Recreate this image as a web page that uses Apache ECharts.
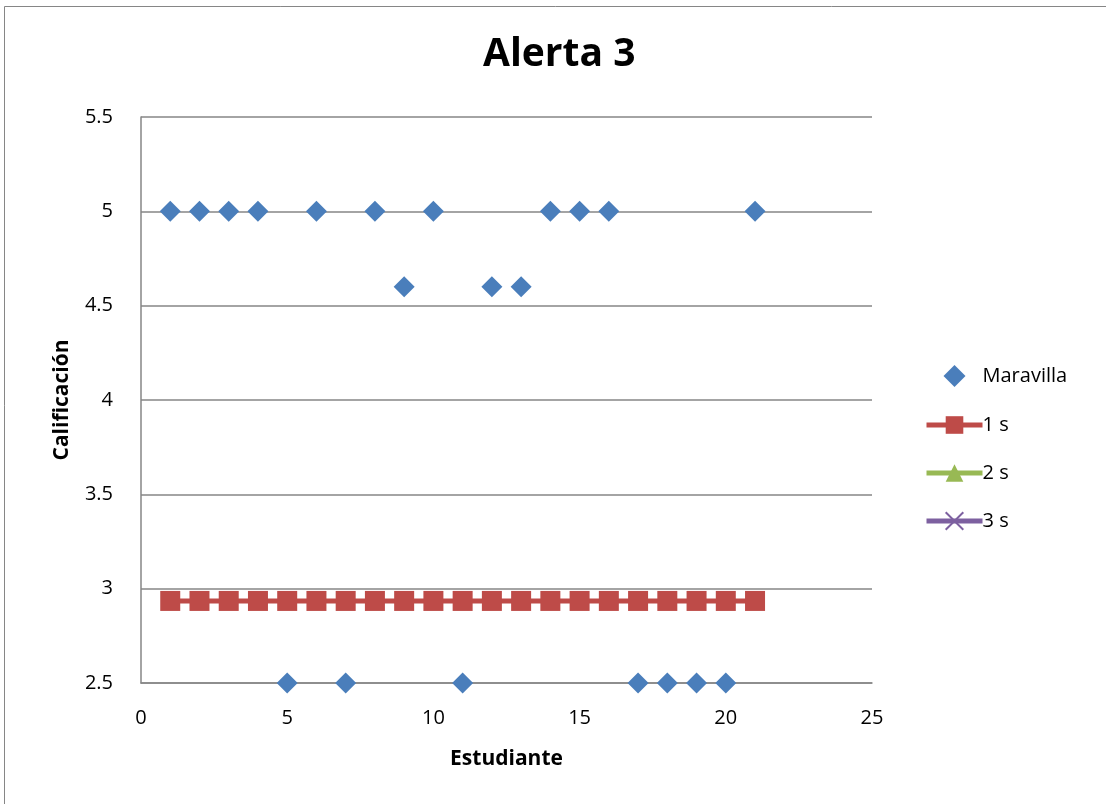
<!DOCTYPE html>
<html><head><meta charset="utf-8">
<script src="https://cdn.jsdelivr.net/npm/echarts@6/dist/echarts.min.js"></script>
<style>html,body{margin:0;padding:0;background:#fff}#c{width:1106px;height:804px}</style>
</head><body><div id="c"></div>
<script>
const students = [1,2,3,4,5,6,7,8,9,10,11,12,13,14,15,16,17,18,19,20,21];
const maravilla = [5,5,5,5,2.5,5,2.5,5,4.6,5,2.5,4.6,4.6,5,5,5,2.5,2.5,2.5,2.5,5];
const s1 = [2.935,2.935,2.935,2.935,2.935,2.935,2.935,2.935,2.935,2.935,2.935,2.935,2.935,2.935,2.935,2.935,2.935,2.935,2.935,2.935,2.935];
const s2 = [1.76,1.76,1.76,1.76,1.76,1.76,1.76,1.76,1.76,1.76,1.76,1.76,1.76,1.76,1.76,1.76,1.76,1.76,1.76,1.76,1.76];
const s3 = [0.59,0.59,0.59,0.59,0.59,0.59,0.59,0.59,0.59,0.59,0.59,0.59,0.59,0.59,0.59,0.59,0.59,0.59,0.59,0.59,0.59];
const pair = (xs, ys) => xs.map((x, i) => [x, ys[i]]);
const font = "'Open Sans', 'Liberation Sans', sans-serif";
const chart = echarts.init(document.getElementById('c'), null, {renderer: 'canvas'});
chart.setOption({
  animation: false,
  textStyle: {fontFamily: font},
  graphic: [{type: 'rect', shape: {x: 4.5, y: 6.5, width: 1200, height: 900}, style: {fill: null, stroke: '#868686', lineWidth: 1}}],
  title: {text: 'Alerta 3', left: 483, top: 35, padding: 0, textStyle: {fontSize: 39, fontWeight: 'bold', color: '#000', fontFamily: font}},
  grid: {left: 141, top: 117, width: 731, height: 566},
  legend: {
    orient: 'vertical', left: 924, top: 365, padding: 0, itemGap: 28, itemWidth: 56, itemHeight: 22,
    lineStyle: {width: 5},
    textStyle: {fontSize: 20, color: '#000', fontFamily: font, padding: [0,0,0,-5]},
    data: ['Maravilla', '1 s', '2 s', '3 s']
  },
  xAxis: {
    type: 'value', min: 0, max: 25, interval: 5,
    name: 'Estudiante', nameLocation: 'middle', nameGap: 66,
    nameTextStyle: {fontSize: 21, fontWeight: 'bold', color: '#000', fontFamily: font},
    axisLine: {lineStyle: {color: '#868686', width: 1.5}}, axisTick: {show: false},
    axisLabel: {fontSize: 20, color: '#000', margin: 25, fontFamily: font},
    splitLine: {show: false}
  },
  yAxis: {
    type: 'value', min: 2.5, max: 5.5, interval: 0.5,
    name: 'Calificación', nameLocation: 'middle', nameGap: 68, nameRotate: 90,
    nameTextStyle: {fontSize: 21, fontWeight: 'bold', color: '#000', fontFamily: font},
    axisLine: {show: true, lineStyle: {color: '#868686', width: 1.5}}, axisTick: {show: false},
    axisLabel: {fontSize: 20, color: '#000', margin: 28, fontFamily: font},
    splitLine: {show: true, lineStyle: {color: '#868686', width: 1.5}}
  },
  series: [
    {name: 'Maravilla', type: 'scatter', symbol: 'path://M0,-1L1,0L0,1L-1,0Z', symbolKeepAspect: true, symbolSize: 21, data: pair(students, maravilla), itemStyle: {color: '#4a7ebb', opacity: 1}, z: 5},
    {name: '1 s', type: 'line', symbol: 'rect', symbolSize: 20, clip: true, data: pair(students, s1), lineStyle: {color: '#be4b48', width: 5}, itemStyle: {color: '#be4b48'}},
    {name: '2 s', type: 'line', symbol: 'triangle', symbolSize: 18, clip: true, data: pair(students, s2), lineStyle: {color: '#98b954', width: 5}, itemStyle: {color: '#98b954'}},
    {name: '3 s', type: 'line', symbol: 'path://M0,0L10,10M10,0L0,10', symbolSize: 18, clip: true, data: pair(students, s3), lineStyle: {color: '#7d60a0', width: 5}, itemStyle: {color: '#7d60a0', borderColor: '#7d60a0', borderWidth: 1.5}}
  ]
});
</script></body></html>
